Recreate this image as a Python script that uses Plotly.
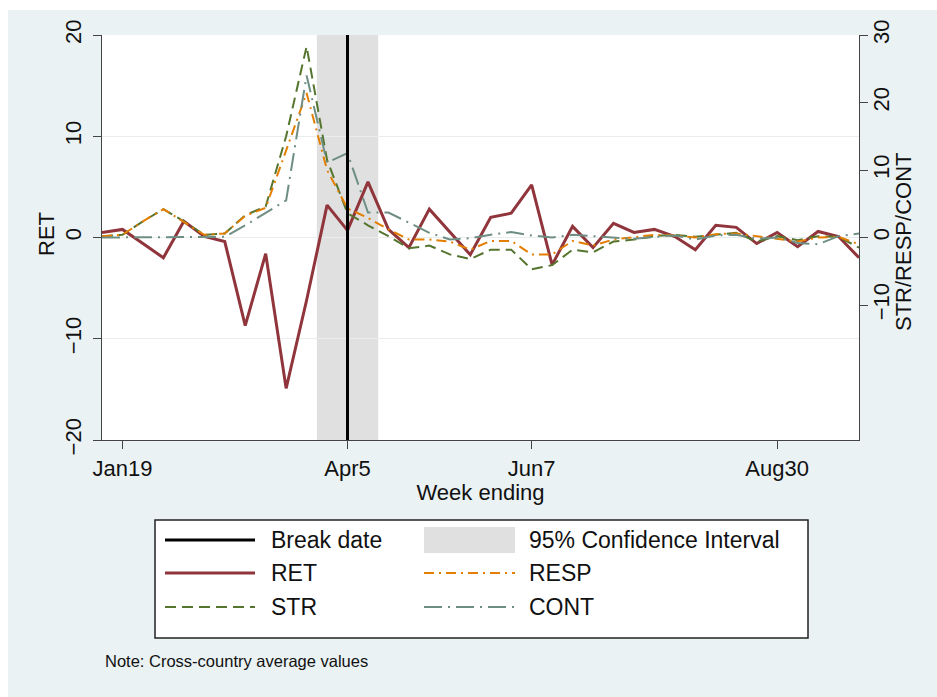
import pandas as pd
import plotly.graph_objects as go

# ---------------- data ----------------
weeks = pd.date_range("2020-01-12", periods=38, freq="7D")

ret = [0.5, 0.8, -0.6, -2.0, 1.6, 0.1, -0.4, -8.7, -1.6, -14.9,
       -6.2, 3.2, 0.7, 5.5, 0.8, -1.0, 2.8, 0.5, -1.7, 2.0,
       2.4, 5.2, -2.7, 1.1, -1.0, 1.4, 0.5, 0.8, 0.1, -1.2,
       1.2, 1.0, -0.6, 0.5, -0.9, 0.6, 0.1, -2.0]
strv = [0.2, 0.4, 2.4, 4.2, 2.4, 0.4, 0.6, 3.3, 4.6, 15.0,
        28.3, 11.5, 3.6, 1.8, 0.2, -1.6, -1.2, -2.5, -3.2, -1.8,
        -1.8, -4.7, -4.1, -1.8, -2.2, -0.6, -0.3, 0.2, 0.4, 0.1,
        0.4, 0.7, -0.6, 0.2, -0.4, 0.2, 0.1, -1.5]
resp = [0.2, 0.4, 2.4, 4.2, 2.3, 0.4, 0.6, 3.2, 4.4, 13.0,
        21.4, 10.0, 4.3, 2.9, 1.2, -0.3, -0.3, -0.6, -1.8, -0.5,
        -0.5, -2.5, -2.5, -0.5, -1.2, -0.3, 0.0, 0.4, 0.3, 0.0,
        0.5, 0.6, 0.2, -0.2, -0.6, 0.0, 0.1, -1.0]
cont = [0.0, 0.0, 0.0, 0.0, 0.0, 0.0, 0.1, 1.8, 3.7, 5.5,
        24.0, 11.1, 12.5, 3.7, 3.7, 2.2, 0.7, -0.3, -0.1, 0.4,
        0.8, 0.3, 0.0, 0.4, 0.2, 0.0, -0.2, 0.1, 0.3, -0.3,
        0.3, 0.4, -0.2, 0.0, -0.8, -1.0, 0.2, 0.6]

break_date = "2020-04-05"
ci_low = "2020-03-25 12:00"
ci_high = "2020-04-15 12:00"

xtick_vals = ["2020-01-19", "2020-04-05", "2020-06-07", "2020-08-30"]
xtick_text = ["Jan19", "Apr5", "Jun7", "Aug30"]
ytick_left = [-20, -10, 0, 10, 20]
ytick_right = [-10, 0, 10, 20, 30]

# ---------------- style ----------------
C_RET = "#90353B"
C_STR = "#55752F"
C_RESP = "#E37E00"
C_CONT = "#6E8E84"
BG = "#EAF2F3"
FONT = "Arial, Liberation Sans, sans-serif"
AX = "#444444"

W, H = 937, 697
ML, MR, MT, MB = 102, 78, 35, 257
PW, PH = W - ML - MR, H - MT - MB


def px(xp):
    return (xp - ML) / PW


def py(yp):
    return (MT + PH - yp) / PH


fig = go.Figure()
fig.add_trace(go.Scatter(x=weeks, y=ret, name="RET", mode="lines",
                         line=dict(color=C_RET, width=3), yaxis="y"))
fig.add_trace(go.Scatter(x=weeks, y=strv, name="STR", mode="lines",
                         line=dict(color=C_STR, width=2, dash="11px,6px"), yaxis="y2"))
fig.add_trace(go.Scatter(x=weeks, y=resp, name="RESP", mode="lines",
                         line=dict(color=C_RESP, width=2, dash="10px,5px,2px,5px"), yaxis="y2"))
fig.add_trace(go.Scatter(x=weeks, y=cont, name="CONT", mode="lines",
                         line=dict(color=C_CONT, width=2, dash="18px,6px,2px,6px"), yaxis="y2"))

shapes = [
    # confidence interval band
    dict(type="rect", xref="x", yref="paper", x0=ci_low, x1=ci_high, y0=0, y1=1,
         fillcolor="#E0E0E0", line=dict(width=0), layer="between"),
    # break date line
    dict(type="line", xref="x", yref="paper", x0=break_date, x1=break_date, y0=0, y1=1,
         line=dict(color="black", width=3), layer="above"),
    # white page margins (top / left)
    dict(type="rect", xref="paper", yref="paper", x0=px(-5), x1=px(W + 5), y0=py(10), y1=py(-5),
         fillcolor="white", line=dict(width=0), layer="below"),
    dict(type="rect", xref="paper", yref="paper", x0=px(-5), x1=px(8), y0=py(H + 5), y1=py(-5),
         fillcolor="white", line=dict(width=0), layer="below"),
    # legend box
    dict(type="rect", xref="paper", yref="paper", x0=px(155), x1=px(808), y0=py(638), y1=py(520),
         fillcolor="white", line=dict(color="#222222", width=1.5), layer="above"),
]

annotations = []
legend_items = [
    ("line", "Break date", dict(color="black", width=3), 0, 540),
    ("rect", "95% Confidence Interval", None, 1, 540),
    ("line", "RET", dict(color=C_RET, width=3), 0, 573),
    ("line", "RESP", dict(color=C_RESP, width=2, dash="10px,5px,2px,5px"), 1, 573),
    ("line", "STR", dict(color=C_STR, width=2, dash="11px,6px"), 0, 607),
    ("line", "CONT", dict(color=C_CONT, width=2, dash="18px,6px,2px,6px"), 1, 607),
]
col_sym = [(165, 255), (424, 515)]
col_txt = [269, 527]
for kind, label, ln, col, yy in legend_items:
    x0, x1 = col_sym[col]
    if kind == "line":
        shapes.append(dict(type="line", xref="paper", yref="paper", x0=px(x0), x1=px(x1),
                           y0=py(yy), y1=py(yy), line=ln, layer="above"))
    else:
        shapes.append(dict(type="rect", xref="paper", yref="paper", x0=px(x0), x1=px(x1),
                           y0=py(yy + 13), y1=py(yy - 13), fillcolor="#E0E0E0",
                           line=dict(width=0), layer="above"))
    annotations.append(dict(xref="paper", yref="paper", x=px(col_txt[col]), y=py(yy),
                            xanchor="left", yanchor="middle", text=label, showarrow=False,
                            font=dict(family=FONT, size=23, color="#111111")))

annotations.append(dict(xref="paper", yref="paper", x=px(103), y=py(661), xanchor="left",
                        yanchor="middle", text="Note: Cross-country average values",
                        showarrow=False, font=dict(family=FONT, size=16.5, color="#111111")))

# axis titles (vertical)
annotations.append(dict(xref="paper", yref="paper", x=px(46), y=py(234), xanchor="center",
                        yanchor="middle", text="RET", textangle=-90, showarrow=False,
                        font=dict(family=FONT, size=22, color="#111111")))
annotations.append(dict(xref="paper", yref="paper", x=px(904), y=py(242), xanchor="center",
                        yanchor="middle", text="STR/RESP/CONT", textangle=-90, showarrow=False,
                        font=dict(family=FONT, size=22, color="#111111")))

fig.update_layout(
    width=W, height=H, autosize=False,
    margin=dict(l=ML, r=MR, t=MT, b=MB, pad=0),
    paper_bgcolor=BG, plot_bgcolor="white",
    showlegend=False,
    font=dict(family=FONT, color="#111111"),
    shapes=shapes, annotations=annotations,
    xaxis=dict(range=[weeks[0], weeks[-1]], tickvals=xtick_vals, ticktext=xtick_text,
               showline=True, linecolor=AX, linewidth=1.2, ticks="outside", ticklen=8,
               tickcolor=AX, showgrid=False, zeroline=False, tickfont=dict(size=22),
               title=dict(text="Week ending", font=dict(size=22), standoff=2)),
    yaxis=dict(range=[-20, 20], tickvals=ytick_left, showline=True, linecolor=AX,
               linewidth=1.2, ticks="outside", ticklen=8, tickcolor=AX, tickangle=-90,
               showgrid=True, gridcolor="#E9EDEE", gridwidth=1, zeroline=False,
               tickfont=dict(size=22), ticklabelstandoff=3),
    yaxis2=dict(range=[-30, 30], tickvals=ytick_right, overlaying="y", side="right",
                showline=True, linecolor=AX, linewidth=1.2, ticks="outside", ticklen=8,
                tickcolor=AX, tickangle=-90, showgrid=False, zeroline=False,
                tickfont=dict(size=22), ticklabelstandoff=-6),
)

fig.write_html("out.html")
